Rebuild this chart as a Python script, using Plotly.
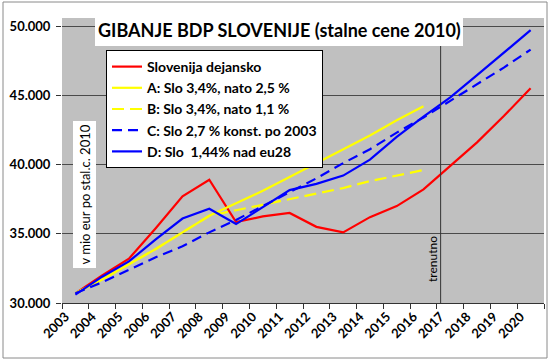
import plotly.graph_objects as go

years = [str(y) for y in range(2003, 2021)]

slo_actual = [30700, 32000, 33200, 35400, 37700, 38900, 35850, 36250, 36500, 35500,
              35100, 36200, 37000, 38200, 39900, 41600, 43500, 45500]
a_34_25 = [30700, 31700, 32800, 33900, 35100, 36300, 37200, 38100, 39100, 40100,
           41100, 42100, 43200, 44200]
b_34_11 = [30700, 31700, 32800, 33900, 35100, 36300, 36700, 37100, 37500, 37900,
           38300, 38800, 39200, 39600]
c_27 = [30700, 31500, 32400, 33300, 34100, 35100, 36000, 37000, 38000, 39000,
        40100, 41100, 42300, 43400, 44600, 45800, 47000, 48300]
d_144 = [30600, 31900, 33000, 34600, 36100, 36800, 35700, 36900, 38150, 38600,
         39200, 40350, 42000, 43450, 44850, 46450, 48050, 49700]

names = ["Slovenija dejansko", "A: Slo 3,4%, nato 2,5 %", "B: Slo 3,4%, nato 1,1 %",
         "C: Slo 2,7 % konst. po 2003", "D: Slo  1,44% nad eu28"]
ytick_vals = [30000, 35000, 40000, 45000, 50000]

W, H = 549, 361
L, R, T, B = 62, 5, 18, 58
pw, ph = W - L - R, H - T - B

def px(x):
    return (x - L) / pw

def py(y):
    return 1 - (y - T) / ph

fig = go.Figure()
series = [
    (slo_actual, "#ff0000", "solid"),
    (a_34_25, "#ffff00", "solid"),
    (b_34_11, "#ffff00", "12px,6px"),
    (c_27, "#0000ff", "10px,6px"),
    (d_144, "#0000ff", "solid"),
]
for (vals, col, dash), nm in zip(series, names):
    fig.add_trace(go.Scatter(x=years[:len(vals)], y=vals, mode="lines", name=nm,
                             line=dict(color=col, width=2.2, dash=dash)))

# vertical "trenutno" line between 2016 and 2017
fig.add_shape(type="line", xref="x", yref="paper", x0=13.64, x1=13.64, y0=0, y1=1,
              line=dict(color="#333333", width=1), layer="above")
# title box
fig.add_shape(type="rect", xref="paper", yref="paper", x0=px(95), x1=px(463),
              y0=py(46), y1=py(12), fillcolor="white", line=dict(width=0), layer="above")
# outer frame
fig.add_shape(type="rect", xref="paper", yref="paper", x0=px(3), x1=px(547),
              y0=py(358), y1=py(2), line=dict(color="#8a8a8a", width=1), layer="above")

fig.add_annotation(text="<b>GIBANJE BDP SLOVENIJE (stalne cene 2010)</b>", xref="paper", yref="paper",
                   x=px(279), y=py(30), showarrow=False, xanchor="center", yanchor="middle",
                   font=dict(family="Lato", size=18, color="black"))
fig.add_annotation(text="v mio eur po stal.c. 2010", xref="paper", yref="paper",
                   x=px(84.5), y=py(195), showarrow=False, textangle=-90,
                   xanchor="center", yanchor="middle", bgcolor="white", borderpad=3,
                   font=dict(family="Lato", size=13, color="black"))
fig.add_annotation(text="trenutno", xref="paper", yref="paper",
                   x=px(432), y=py(259), showarrow=False, textangle=-90,
                   xanchor="center", yanchor="middle",
                   font=dict(family="Lato", size=12, color="black"))

fig.update_layout(
    width=W, height=H, margin=dict(l=L, r=R, t=T, b=B, autoexpand=False),
    paper_bgcolor="white", plot_bgcolor="#c0c0c0",
    separators=",.",
    showlegend=True,
    legend=dict(x=px(106), y=py(50), xanchor="left", yanchor="top",
                bgcolor="white", bordercolor="black", borderwidth=1,
                font=dict(family="Lato", size=14, color="black", weight="bold"),
                traceorder="normal"),
    font=dict(family="Lato", color="black"),
)
fig.update_xaxes(type="category", range=[-0.5, 17.5], tickangle=-45, tickson="boundaries",
                 ticks="outside", ticklen=5, tickcolor="#333333", showgrid=False,
                 showline=True, linecolor="#333333", linewidth=1, automargin=False,
                 ticklabelshift=-10,
                 tickfont=dict(family="Lato", size=13, color="black", weight="bold"))
fig.update_yaxes(range=[30000, 50580], tickvals=ytick_vals, tickformat=",.0f",
                 ticks="outside", ticklen=5, tickcolor="#333333", automargin=False,
                 showgrid=True, gridcolor="#4a4a4a", gridwidth=1, zeroline=False,
                 showline=False, ticklabelstandoff=3,
                 tickfont=dict(family="Lato", size=13, color="black", weight="bold"))

fig.write_html("out.html", config={"displayModeBar": False},
               post_script="document.body.style.margin='0';document.body.style.overflow='hidden';")
